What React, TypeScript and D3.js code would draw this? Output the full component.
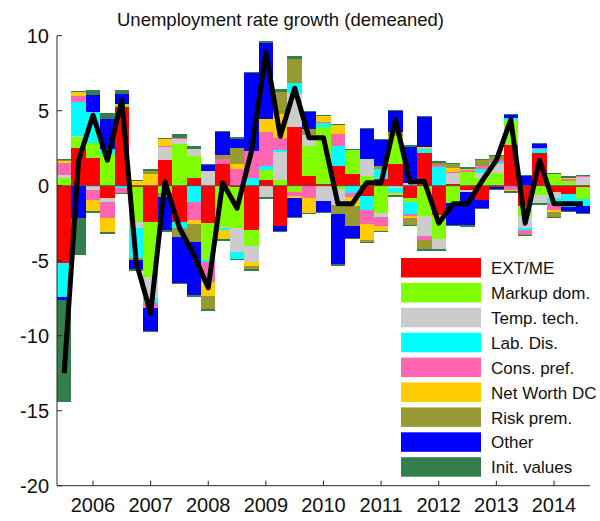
import * as d3 from 'd3'
import { useEffect, useRef } from 'react'

// quarters 2005Q3 .. 2014Q3
const allQuarters: string[] = []
for (let yr = 2005; yr <= 2014; yr++) for (let q = 1; q <= 4; q++) allQuarters.push(yr + 'Q' + q)
const periods = allQuarters.slice(2, 39)

const yearLabels = ['2006', '2007', '2008', '2009', '2010', '2011', '2012', '2013', '2014']
const yTicks = [10, 5, 0, -5, -10, -15, -20]

const seriesNames = ['EXT/ME', 'Markup dom.', 'Temp. tech.', 'Lab. Dis.', 'Cons. pref.', 'Net Worth DC', 'Risk prem.', 'Other', 'Init. values']
const seriesColors = ['#ff0000', '#80ff00', '#cccccc', '#00ffff', '#ff66b2', '#ffcc00', '#999933', '#0000ff', '#337f4c']

const extMe = [-5.18, 2.53, 1.87, -0.8, 5.22, -0.1, -2.4, 1.71, -2.4, 0.53, -2.51, 1.42, -0.1, -2.96, 0.38, -2.67, 3.93, 0.64, 0.11, 1.31, 0.78, -0.67, 0.44, 1.44, -0.84, 2.2, -1.96, 0.11, -0.29, -0.96, -0.1, 2.71, -1.36, 2.2, -0.44, -0.56, -0.11]
const markup = [0.53, 0.69, 1.0, 2.11, 0.22, -2.35, -3.67, -0.51, 2.78, 1.44, -2.44, -2.73, -2.73, -1.07, 0.67, 0.38, -0.4, 2.0, 3.82, -0.2, 1.64, 0.67, -1.84, 1.87, -0.22, -2.0, -1.62, -1.18, 0.93, 0.53, 0.82, 1.67, -0.64, -0.62, 0.82, 0.33, -0.8]
const tempTech = [0.16, 0.09, -0.29, -0.27, 0, -0.4, -1.4, 0.84, 0.31, 0.47, 0.98, -0.11, -1.56, -1.04, -0.84, 1.84, 2.22, 0.71, -1.0, -1.1, 0, 1.09, -0.27, -0.13, 0.16, -1.36, -0.71, 0.71, -0.16, 0.29, 0.6, 0, -0.84, -0.6, -0.4, 0, 0.6]
const labDis = [-2.27, 2.29, 2.04, 0.35, -0.13, -2.0, -0.38, 0, -0.44, -1.07, -0.16, -0.11, -0.56, 0.53, 0.27, 0.13, 0.67, 0, 0.22, 1.36, -0.51, -0.96, 0.7, -0.38, -0.82, 0.22, 1.22, 0, 0, 0.29, 0.16, 0.16, -0.11, 0.22, -0.33, -0.84, -0.44]
const consPref = [0.82, 0.4, -0.67, -1.07, -0.42, 0, -0.29, 0.07, 0.11, -1.22, -1.29, 0.36, 1.09, 1.8, 2.29, 0.84, -0.29, -0.84, 0.11, 0.78, -0.22, -0.93, -0.56, 0, -0.13, -0.27, 0.16, 0.11, 0.11, 0.2, 0.13, -0.29, -0.27, 0.11, -0.44, 0.11, 0.09]
const netWorth = [0.15, 0.31, -0.8, -0.93, 0, 0.35, 0.78, 0.56, 0, -0.27, -0.96, -0.67, 0.38, -0.29, 0.82, 1.6, -0.16, -1.04, 0.38, 0.64, -0.6, -1.07, -0.4, -0.18, -0.11, 0.13, 0, 0.27, 0.16, 0, 0, -0.16, 0, 0, -0.11, 0.16, 0]
const riskPrem = [0.1, 0, 0, -0.11, 0, -0.1, 0.27, -0.22, -0.6, -1.18, -0.93, 0.24, 1.07, -0.27, 0, 1.49, 1.65, 0.44, 0.07, -0.6, -1.33, -0.16, 0.18, 0.29, -0.56, -0.67, 0.22, 0.29, 0, 0.47, 0.31, 0, -0.13, 0, -0.4, 0, 0]
const other = [-0.18, -2.18, 1.16, 1.98, 0.67, -0.67, -1.6, -2.3, -3.1, -3.62, 0.44, 1.6, 0.67, 5.22, 5.18, -0.4, -1.29, 1.16, -0.8, -3.4, -0.89, 2.07, 1.78, 1.44, 2.51, 2.09, 0, -1.49, -2.24, -0.56, -0.18, 0.22, 0.71, 0.29, 0, -0.33, -0.53]
const initValues = [-6.78, -2.4, 0.25, 0.35, 0.25, 0, 0, 0, 0.22, 0.18, 0, 0, 0, 0, 0, 0.12, 0.12, 0, 0, 0, 0, 0, 0, 0, 0, 0, 0, 0, 0, 0, 0, 0, 0, 0, 0, 0, 0]

// observed unemployment growth (black line)
const observed = [-12.5, 1.7, 4.7, 1.7, 5.7, -5.1, -8.5, 0.25, -2.8, -4.6, -6.8, 0.2, -1.5, 2.3, 8.9, 3.3, 6.5, 3.2, 3.2, -1.2, -1.2, 0.2, 0.2, 4.4, 0.25, 0.3, -2.5, -1.2, -1.2, 0.3, 1.7, 4.4, -2.5, 1.7, -1.2, -1.2, -1.2]

const seriesValues = [extMe, markup, tempTech, labDis, consPref, netWorth, riskPrem, other, initValues]

export default function App() {
	const svgRef = useRef<SVGSVGElement>(null)

	useEffect(() => {
		const svg = d3.select(svgRef.current)
		svg.selectAll('*').remove()

		const x = d3.scaleBand().domain(periods).range([57, 590]).padding(0)
		const y = d3.scaleLinear().domain([-20, 10]).range([485.7, 35.7])

		const rows = periods.map((p, i) => {
			const r: any = { period: p }
			seriesNames.forEach((n, k) => (r[n] = seriesValues[k][i]))
			return r
		})
		const stacked = d3.stack().keys(seriesNames).offset(d3.stackOffsetDiverging)(rows)

		const bars = svg.append('g').attr('shape-rendering', 'crispEdges')
		stacked.forEach((layer, k) => {
			bars
				.append('g')
				.attr('fill', seriesColors[k])
				.selectAll('rect')
				.data(layer.filter((d) => d[1] - d[0] !== 0))
				.join('rect')
				.attr('x', (d: any) => x(d.data.period)!)
				.attr('width', x.bandwidth())
				.attr('y', (d) => y(d[1]))
				.attr('height', (d) => y(d[0]) - y(d[1]))
		})

		// dark green end caps at both ends of each bar
		const ends = periods.map((p, i) => ({
			period: p,
			top: d3.max(stacked, (l) => l[i][1]) as number,
			bottom: d3.min(stacked, (l) => l[i][0]) as number,
		}))
		const caps = svg.append('g').attr('fill', seriesColors[8]).attr('shape-rendering', 'crispEdges')
		caps
			.selectAll('rect.top')
			.data(ends)
			.join('rect')
			.attr('x', (d) => x(d.period)!)
			.attr('width', x.bandwidth())
			.attr('y', (d) => y(d.top) - 0.5)
			.attr('height', 1.5)
		caps
			.selectAll('rect.bot')
			.data(ends)
			.join('rect')
			.attr('x', (d) => x(d.period)!)
			.attr('width', x.bandwidth())
			.attr('y', (d) => y(d.bottom) - 1)
			.attr('height', 1.5)

		// zero line
		svg
			.append('line')
			.attr('x1', 57)
			.attr('x2', 590)
			.attr('y1', y(0))
			.attr('y2', y(0))
			.attr('stroke', '#555')
			.attr('stroke-width', 1)

		// observed line
		const line = d3
			.line<number>()
			.x((d, i) => x(periods[i])! + x.bandwidth() / 2)
			.y((d) => y(d))
		svg
			.append('path')
			.datum(observed)
			.attr('fill', 'none')
			.attr('stroke', '#000')
			.attr('stroke-width', 5)
			.attr('stroke-linejoin', 'round')
			.attr('d', line)

		// axes
		const axisColor = '#262626'
		svg.append('line').attr('x1', 57).attr('x2', 57).attr('y1', y(10)).attr('y2', y(-20)).attr('stroke', axisColor)
		svg.append('line').attr('x1', 57).attr('x2', 590).attr('y1', y(-20)).attr('y2', y(-20)).attr('stroke', axisColor)
		const yt = svg.append('g')
		yTicks.forEach((t) => {
			yt.append('line').attr('x1', 57).attr('x2', 62).attr('y1', y(t)).attr('y2', y(t)).attr('stroke', axisColor)
			yt.append('text')
				.attr('x', 49)
				.attr('y', y(t))
				.attr('dy', '0.36em')
				.attr('text-anchor', 'end')
				.attr('font-size', 20)
				.attr('fill', '#111')
				.text(String(t))
		})
		const xt = svg.append('g')
		yearLabels.forEach((yr) => {
			const cx = x(yr + 'Q1')! + x.bandwidth() / 2
			xt.append('line').attr('x1', cx).attr('x2', cx).attr('y1', y(-20)).attr('y2', y(-20) - 5).attr('stroke', axisColor)
			xt.append('text')
				.attr('x', cx)
				.attr('y', 512)
				.attr('text-anchor', 'middle')
				.attr('font-size', 20)
				.attr('fill', '#111')
				.text(yr)
		})

		// title
		svg
			.append('text')
			.attr('x', 280.5)
			.attr('y', 26)
			.attr('text-anchor', 'middle')
			.attr('font-size', 18.5)
			.attr('fill', '#111')
			.text('Unemployment rate growth (demeaned)')

		// legend
		const legend = svg.append('g')
		seriesNames.forEach((n, k) => {
			const top = 258 + k * 24.9
			legend.append('rect').attr('x', 401).attr('y', top).attr('width', 80).attr('height', 19.5).attr('fill', seriesColors[k])
			legend
				.append('text')
				.attr('x', 491)
				.attr('y', top + 10)
				.attr('dy', '0.36em')
				.attr('font-size', 17)
				.attr('fill', '#111')
				.text(n)
		})
	}, [])

	return (
		<div>
			<svg
				ref={svgRef}
				width={600}
				height={521}
				style={{ position: 'absolute', left: 0, top: 0, fontFamily: '"Liberation Sans", Arial, sans-serif' }}
			/>
		</div>
	)
}
